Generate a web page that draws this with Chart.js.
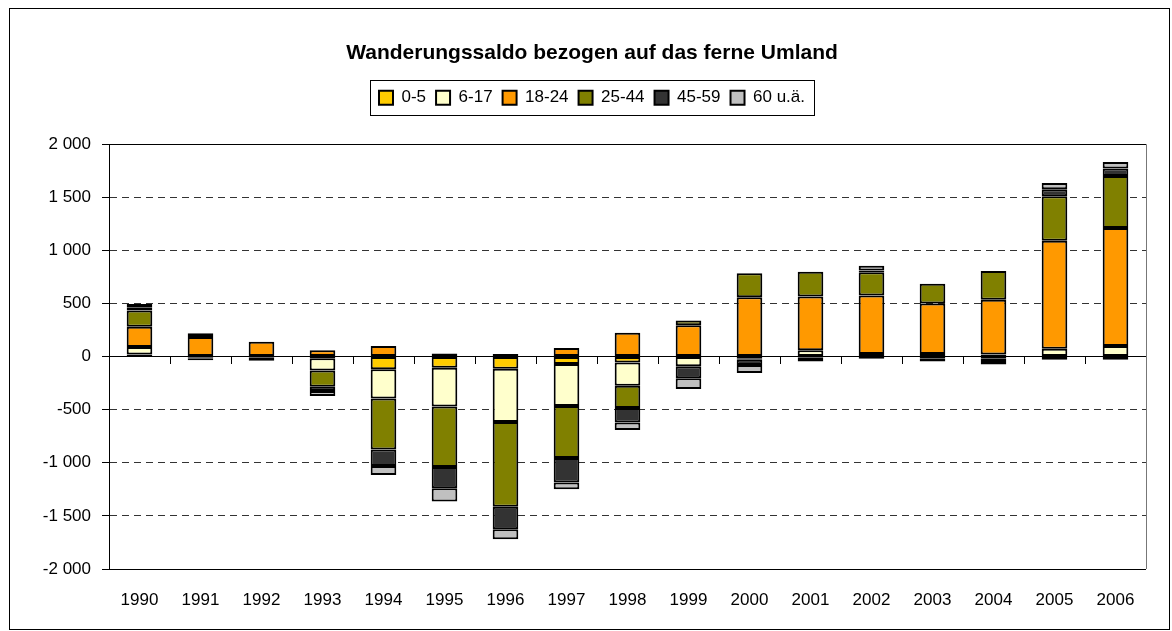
<!DOCTYPE html>
<html>
<head>
<meta charset="utf-8">
<script src="https://cdn.jsdelivr.net/npm/chart.js@4/dist/chart.umd.min.js"></script>
<style>
  html, body { margin: 0; padding: 0; background: #fff; }
  canvas { display: block; }
</style>
</head>
<body>
<canvas id="chart" width="1172" height="631"></canvas>
<script>
// data
const years = ["1990", "1991", "1992", "1993", "1994", "1995", "1996", "1997", "1998",
  "1999", "2000", "2001", "2002", "2003", "2004", "2005", "2006"];
const age0to5   = [20, -5, -10, -15, -120, -105, -115, -70, -55, 0, -15, -10, -20, -20, -20, -30, -30];
const age6to17  = [70, -10, 0, -115, -275, -365, -500, -395, -220, -90, -15, 60, 25, 25, 20, 75, 100];
const age18to24 = [190, 185, 140, 60, 100, 30, 25, 80, 225, 295, 560, 505, 550, 475, 515, 1015, 1110];
const age25to44 = [155, 35, 0, -155, -480, -570, -800, -490, -210, 45, 225, 235, 220, 185, 270, 420, 490];
const age45to59 = [30, -20, -30, -40, -155, -200, -210, -230, -135, -115, -50, -35, 15, -25, -30, 65, 72];
const age60plus = [30, 0, 0, -45, -85, -125, -95, -65, -70, -100, -75, 0, 45, 0, -25, 60, 60];
const yTicks = [-2000, -1500, -1000, -500, 0, 500, 1000, 1500, 2000];

const seriesNames = ["0-5", "6-17", "18-24", "25-44", "45-59", "60 u.ä."];
const seriesData = [age0to5, age6to17, age18to24, age25to44, age45to59, age60plus];
const seriesColors = ["#FFCC00", "#FFFFCC", "#FF9900", "#808000", "#333333", "#C0C0C0"];

const FONT = "'Liberation Sans', Arial, sans-serif";
Chart.defaults.font.family = FONT;
Chart.defaults.color = "#000";

function fmt(v) {
  return String(v).replace(/\B(?=(\d{3})+(?!\d))/g, " ");
}

// white page, outer frame, plot frame and legend border
const framePlugin = {
  id: "frames",
  beforeInit(chart) {
    const lg = chart.legend;
    if (lg && !lg._patched) {
      const fit = lg.fit;
      lg.fit = function () {
        fit.call(this);
        this.height += 28;
      };
      lg._patched = true;
    }
  },
  beforeDraw(chart) {
    const ctx = chart.ctx;
    ctx.save();
    ctx.fillStyle = "#fff";
    ctx.fillRect(0, 0, chart.width, chart.height);
    ctx.restore();
  },
  afterDraw(chart) {
    const ctx = chart.ctx;
    const a = chart.chartArea;
    ctx.save();
    ctx.lineWidth = 1;
    ctx.strokeStyle = "#000";
    ctx.strokeRect(9.5, 8.5, 1160, 621);
    ctx.strokeStyle = "#777";
    ctx.beginPath();
    ctx.moveTo(Math.round(a.right) + 0.5, a.top);
    ctx.lineTo(Math.round(a.right) + 0.5, a.bottom);
    ctx.stroke();
    const hb = chart.legend.legendHitBoxes;
    if (hb && hb.length) {
      const l = Math.min(...hb.map(h => h.left)) - 9;
      const r = Math.max(...hb.map(h => h.left + h.width)) + 9;
      const t = hb[0].top - 9;
      const b = hb[0].top + hb[0].height + 9;
      ctx.strokeStyle = "#000";
      ctx.strokeRect(Math.round(l) + 0.5, Math.round(t) + 0.5, Math.round(r - l), Math.round(b - t));
    }
    ctx.restore();
  }
};

const canvas = document.getElementById("chart");
new Chart(canvas.getContext("2d"), {
  type: "bar",
  data: {
    labels: years,
    datasets: seriesNames.map((name, i) => ({
      label: name,
      data: seriesData[i],
      backgroundColor: seriesColors[i],
      borderColor: "#000",
      borderWidth: 2,
      borderSkipped: false,
      categoryPercentage: 1,
      barPercentage: 0.42
    }))
  },
  options: {
    responsive: false,
    animation: false,
    layout: { padding: { left: 26, right: 14, top: 0, bottom: 0 } },
    plugins: {
      title: {
        display: true,
        text: "Wanderungssaldo bezogen auf das ferne Umland",
        font: { size: 21, weight: "bold" },
        color: "#000",
        padding: { top: 41, bottom: 13 }
      },
      legend: {
        display: true,
        labels: {
          font: { size: 17 },
          boxWidth: 14,
          boxHeight: 14,
          padding: 10,
          color: "#000"
        }
      },
      tooltip: { enabled: false }
    },
    scales: {
      x: {
        stacked: true,
        grid: { display: false, drawTicks: false },
        border: { display: false },
        ticks: { font: { size: 17 }, padding: 21, maxRotation: 0, autoSkip: false, color: "#000" },
        afterFit: s => { s.height = 62; }
      },
      x2: {
        type: "category",
        labels: years,
        position: { y: 0 },
        grid: { offset: true, drawOnChartArea: false, drawTicks: true, tickLength: 7, color: "#000" },
        border: { display: false },
        ticks: { display: false }
      },
      y: {
        stacked: true,
        min: -2000,
        max: 2000,
        afterBuildTicks: s => { s.ticks = yTicks.map(v => ({ value: v })); },
        ticks: {
          font: { size: 17 },
          padding: 11,
          color: "#000",
          callback: v => fmt(v)
        },
        grid: {
          color: c => (c.tick && Math.abs(c.tick.value) % 2000 !== 0) ? "#333" : "#000",
          tickColor: "#000",
          tickLength: 7,
          lineWidth: 1
        },
        border: {
          display: true,
          color: "#000",
          width: 1,
          dash: c => (c.tick && Math.abs(c.tick.value) % 2000 !== 0) ? [7, 5] : []
        },
        afterFit: s => { s.width = 83; }
      },
      yR: {
        type: "linear",
        position: "right",
        grid: { display: false },
        border: { display: false },
        ticks: { display: false },
        afterFit: s => { s.width = 12; }
      }
    }
  },
  plugins: [framePlugin]
});
</script>
</body>
</html>
